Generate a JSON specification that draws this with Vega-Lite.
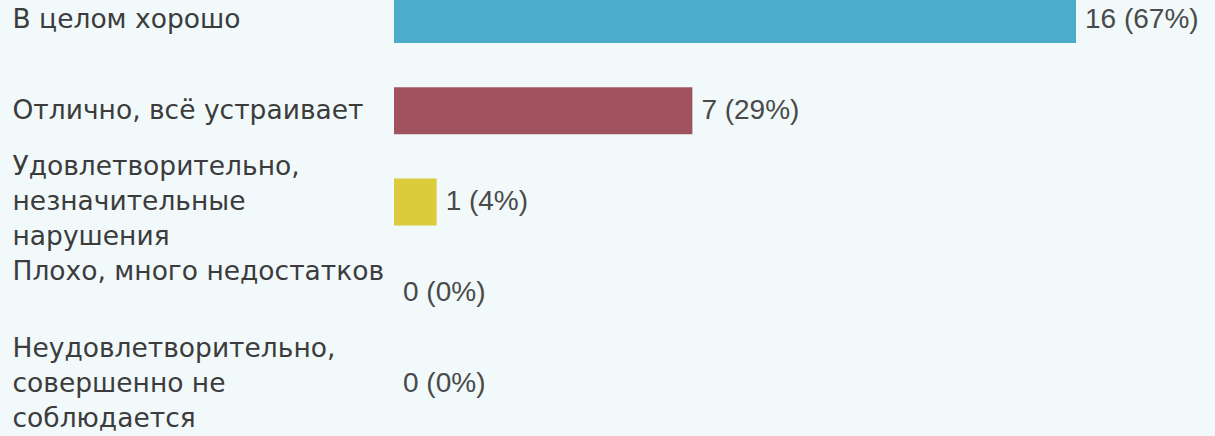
{
  "$schema": "https://vega.github.io/schema/vega-lite/v6.json",
  "autosize": {"type": "none"},
  "padding": {"left": 394, "top": 0, "right": 139, "bottom": 0},
  "width": 682,
  "height": 436,
  "background": "#f1f9fa",
  "config": {"view": {"stroke": null}, "font": "Liberation Sans"},
  "data": {
    "values": [
      {"answer": "В целом хорошо", "count": 16, "pct": 67},
      {"answer": "Отлично, всё устраивает", "count": 7, "pct": 29},
      {"answer": "Удовлетворительно,\nнезначительные\nнарушения", "count": 1, "pct": 4},
      {"answer": "Плохо, много недостатков", "count": 0, "pct": 0},
      {"answer": "Неудовлетворительно,\nсовершенно не\nсоблюдается", "count": 0, "pct": 0}
    ]
  },
  "encoding": {
    "y": {
      "field": "answer",
      "type": "nominal",
      "sort": null,
      "scale": {"range": [-26, 430], "paddingInner": 0, "paddingOuter": 0},
      "axis": {
        "title": null,
        "domain": false,
        "ticks": false,
        "tickSize": 0,
        "grid": false,
        "labelPadding": 382,
        "labelAlign": "left",
        "labelBaseline": "middle",
        "labelFont": "DejaVu Sans",
        "labelFontSize": 26.5,
        "labelColor": "#3c3c3c",
        "labelLimit": 400,
        "labelLineHeight": 35,
        "labelExpr": "split(datum.value, '\\n')",
        "labelOffset": {
          "condition": [
            {"test": "indexof(datum.value, '\\n') >= 0", "value": -35},
            {"test": "datum.value == 'Плохо, много недостатков'", "value": -21}
          ],
          "value": 0
        }
      }
    }
  },
  "layer": [
    {
      "mark": {"type": "bar", "size": 47},
      "encoding": {
        "x": {"field": "count", "type": "quantitative", "scale": {"domain": [0, 16], "nice": false}, "axis": null},
        "color": {
          "field": "answer",
          "type": "nominal",
          "sort": null,
          "scale": {"range": ["#4badca", "#a0535f", "#dccb3a", "#6aa84f", "#8e7cc3"]},
          "legend": null
        }
      }
    },
    {
      "transform": [{"calculate": "datum.count + ' (' + datum.pct + '%)'", "as": "txt"}],
      "mark": {"type": "text", "align": "left", "baseline": "middle", "dx": 9, "fontSize": 28, "color": "#4a4a4a"},
      "encoding": {
        "x": {"field": "count", "type": "quantitative"},
        "text": {"field": "txt"}
      }
    }
  ]
}
